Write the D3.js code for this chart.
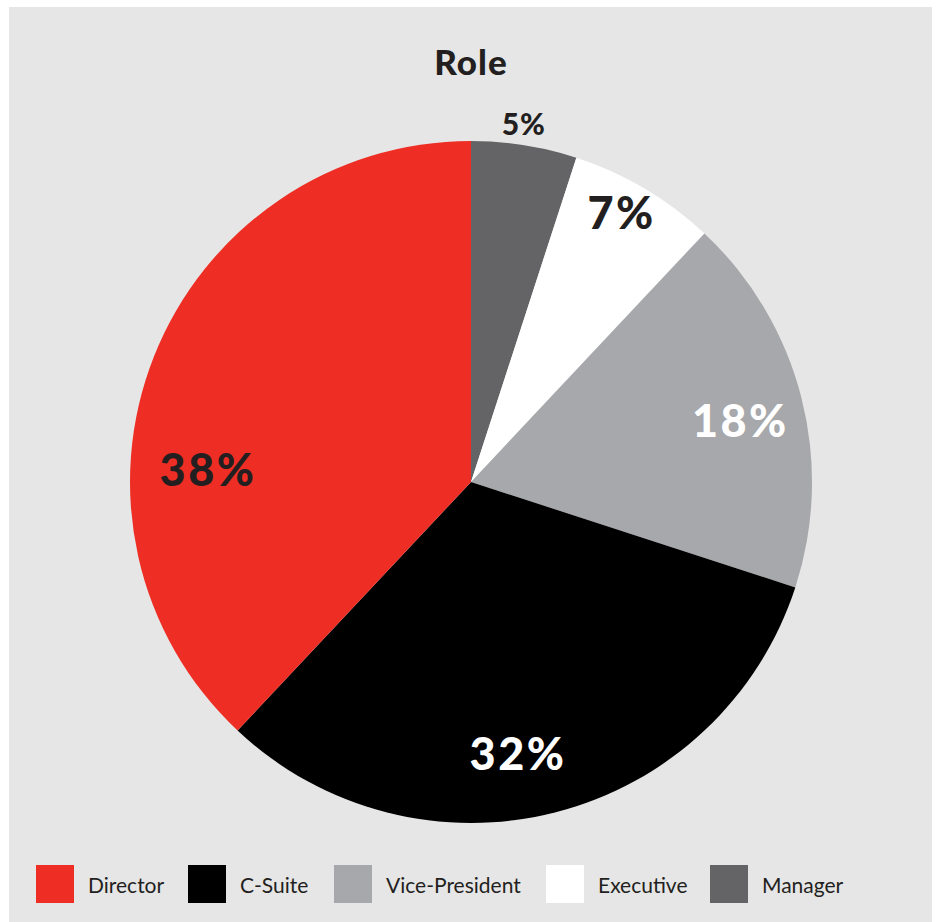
<!DOCTYPE html>
<html>
<head>
<meta charset="utf-8">
<script src="https://cdn.jsdelivr.net/npm/d3@7"></script>
<style>
  html, body { margin: 0; padding: 0; background: #ffffff; }
  svg { display: block; }
</style>
</head>
<body>
<svg id="chart" width="936" height="922"></svg>
<script>
// ---- data ----
const title = "Role";
const categories = ["Manager", "Executive", "Vice-President", "C-Suite", "Director"];
const values = [5, 7, 18, 32, 38];
const legendOrder = ["Director", "C-Suite", "Vice-President", "Executive", "Manager"];

// ---- styles ----
const colors = {
  "Director": "#ee2e24",
  "C-Suite": "#000000",
  "Vice-President": "#a7a8ab",
  "Executive": "#ffffff",
  "Manager": "#646466"
};
const labelColors = {
  "Director": "#231f20",
  "C-Suite": "#ffffff",
  "Vice-President": "#ffffff",
  "Executive": "#231f20",
  "Manager": "#231f20"
};
// label placement: [angle in degrees clockwise from top, radius fraction], font size
const labelLayout = {
  "Manager": [8.4, 1.06, 30],
  "Executive": [29.2, 0.905, 45],
  "Vice-President": [77.2, 0.81, 45],
  "C-Suite": [170.2, 0.81, 45],
  "Director": [272.6, 0.772, 45]
};

const svg = d3.select("#chart");
const H = 922;
const font = "'Lato', 'Open Sans', sans-serif";

svg.append("rect").attr("x", 9).attr("y", 7).attr("width", 923).attr("height", H - 7).attr("fill", "#e6e6e6");

svg.append("text")
  .attr("x", 471).attr("y", 75)
  .attr("text-anchor", "middle")
  .attr("font-family", font).attr("font-weight", 900).attr("font-size", 35)
  .attr("letter-spacing", 1)
  .attr("fill", "#231f20")
  .text(title);

const cx = 471, cy = 482, R = 341;
const data = categories.map((c, i) => ({ cat: c, value: values[i] }));
const pie = d3.pie().value(d => d.value).sort(null);
const arc = d3.arc().innerRadius(0).outerRadius(R);
const arcs = pie(data);

const g = svg.append("g").attr("transform", `translate(${cx},${cy})`);
g.selectAll("path.slice").data(arcs).join("path")
  .attr("class", "slice")
  .attr("d", arc)
  .attr("fill", d => colors[d.data.cat]);

g.selectAll("text.lbl").data(arcs).join("text")
  .attr("class", "lbl")
  .attr("x", d => { const L = labelLayout[d.data.cat]; return Math.sin(L[0] * Math.PI / 180) * L[1] * R; })
  .attr("y", d => { const L = labelLayout[d.data.cat]; return -Math.cos(L[0] * Math.PI / 180) * L[1] * R; })
  .attr("dy", "0.36em")
  .attr("text-anchor", "middle")
  .attr("font-family", font).attr("font-weight", 900)
  .attr("font-size", d => labelLayout[d.data.cat][2])
  .attr("letter-spacing", d => labelLayout[d.data.cat][2] > 40 ? 2.5 : 1)
  .attr("fill", d => labelColors[d.data.cat])
  .text(d => d.data.value + "%");

// legend
const legendPos = { "Director": 36, "C-Suite": 188, "Vice-President": 334, "Executive": 546, "Manager": 710 };
const lg = svg.append("g");
const items = lg.selectAll("g").data(legendOrder).join("g")
  .attr("transform", d => `translate(${legendPos[d]},865)`);
items.append("rect").attr("width", 38).attr("height", 38).attr("fill", d => colors[d]);
items.append("text")
  .attr("x", 52).attr("y", 28)
  .attr("font-family", font).attr("font-size", 21)
  .attr("fill", "#231f20")
  .text(d => d);
</script>
</body>
</html>
